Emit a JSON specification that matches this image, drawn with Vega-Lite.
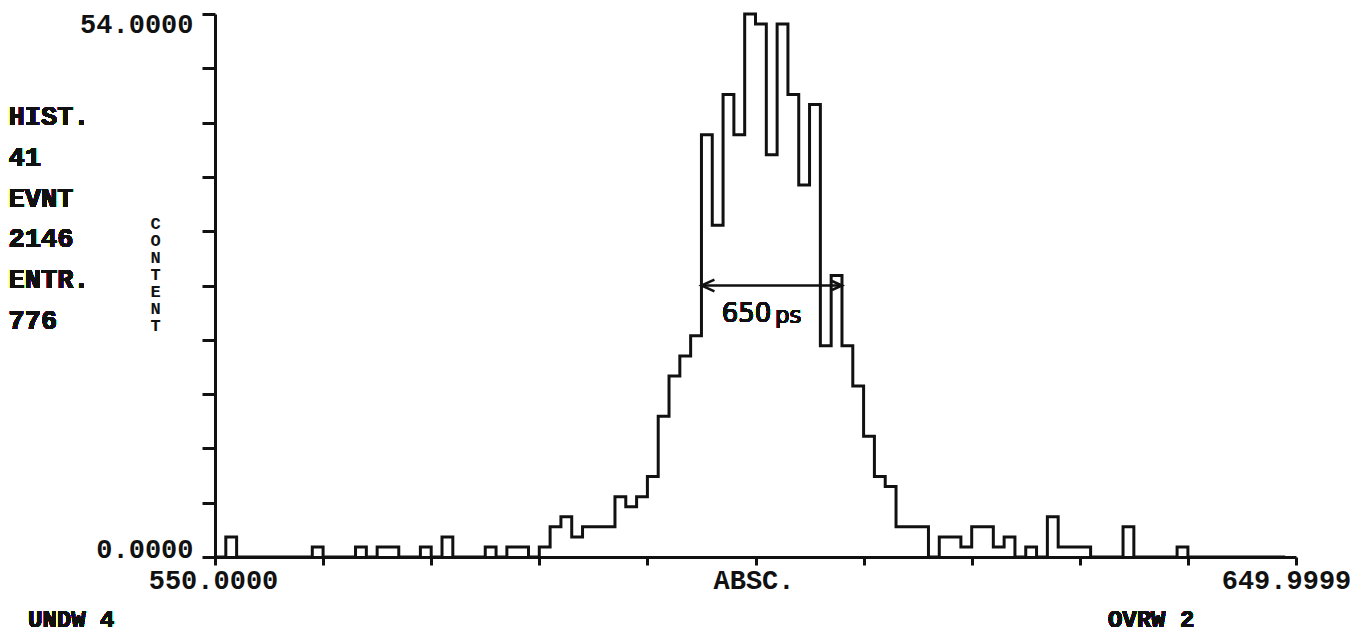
{
  "$schema": "https://vega.github.io/schema/vega-lite/v6.json",
  "width": 1081,
  "height": 543,
  "autosize": {"type": "none"},
  "padding": {"left": 215, "top": 14, "right": 70, "bottom": 75},
  "background": "white",
  "config": {
    "view": {"stroke": null},
    "axis": {
      "grid": false,
      "labelFont": "Liberation Mono",
      "labelFontWeight": "bold",
      "labelFontSize": 27,
      "labelColor": "#111",
      "domainColor": "#111",
      "domainWidth": 3,
      "tickColor": "#111",
      "tickWidth": 3,
      "labelOverlap": false,
      "labelBound": false
    },
    "text": {"font": "Liberation Mono", "fontWeight": "bold", "fontSize": 27, "color": "#111"}
  },
  "data": {
    "values": [
      {"bin": 550, "count": 0}, {"bin": 551, "count": 2}, {"bin": 552, "count": 0}, {"bin": 553, "count": 0},
      {"bin": 554, "count": 0}, {"bin": 555, "count": 0}, {"bin": 556, "count": 0}, {"bin": 557, "count": 0},
      {"bin": 558, "count": 0}, {"bin": 559, "count": 1}, {"bin": 560, "count": 0}, {"bin": 561, "count": 0},
      {"bin": 562, "count": 0}, {"bin": 563, "count": 1}, {"bin": 564, "count": 0}, {"bin": 565, "count": 1},
      {"bin": 566, "count": 1}, {"bin": 567, "count": 0}, {"bin": 568, "count": 0}, {"bin": 569, "count": 1},
      {"bin": 570, "count": 0}, {"bin": 571, "count": 2}, {"bin": 572, "count": 0}, {"bin": 573, "count": 0},
      {"bin": 574, "count": 0}, {"bin": 575, "count": 1}, {"bin": 576, "count": 0}, {"bin": 577, "count": 1},
      {"bin": 578, "count": 1}, {"bin": 579, "count": 0}, {"bin": 580, "count": 1}, {"bin": 581, "count": 3},
      {"bin": 582, "count": 4}, {"bin": 583, "count": 2}, {"bin": 584, "count": 3}, {"bin": 585, "count": 3},
      {"bin": 586, "count": 3}, {"bin": 587, "count": 6}, {"bin": 588, "count": 5}, {"bin": 589, "count": 6},
      {"bin": 590, "count": 8}, {"bin": 591, "count": 14}, {"bin": 592, "count": 18}, {"bin": 593, "count": 20},
      {"bin": 594, "count": 22}, {"bin": 595, "count": 42}, {"bin": 596, "count": 33}, {"bin": 597, "count": 46},
      {"bin": 598, "count": 42}, {"bin": 599, "count": 54}, {"bin": 600, "count": 53}, {"bin": 601, "count": 40},
      {"bin": 602, "count": 53}, {"bin": 603, "count": 46}, {"bin": 604, "count": 37}, {"bin": 605, "count": 45},
      {"bin": 606, "count": 21}, {"bin": 607, "count": 28}, {"bin": 608, "count": 21}, {"bin": 609, "count": 17},
      {"bin": 610, "count": 12}, {"bin": 611, "count": 8}, {"bin": 612, "count": 7}, {"bin": 613, "count": 3},
      {"bin": 614, "count": 3}, {"bin": 615, "count": 3}, {"bin": 616, "count": 0}, {"bin": 617, "count": 2},
      {"bin": 618, "count": 2}, {"bin": 619, "count": 1}, {"bin": 620, "count": 3}, {"bin": 621, "count": 3},
      {"bin": 622, "count": 1}, {"bin": 623, "count": 2}, {"bin": 624, "count": 0}, {"bin": 625, "count": 1},
      {"bin": 626, "count": 0}, {"bin": 627, "count": 4}, {"bin": 628, "count": 1}, {"bin": 629, "count": 1},
      {"bin": 630, "count": 1}, {"bin": 631, "count": 0}, {"bin": 632, "count": 0}, {"bin": 633, "count": 0},
      {"bin": 634, "count": 3}, {"bin": 635, "count": 0}, {"bin": 636, "count": 0}, {"bin": 637, "count": 0},
      {"bin": 638, "count": 0}, {"bin": 639, "count": 1}, {"bin": 640, "count": 0}, {"bin": 641, "count": 0},
      {"bin": 642, "count": 0}, {"bin": 643, "count": 0}, {"bin": 644, "count": 0}, {"bin": 645, "count": 0},
      {"bin": 646, "count": 0}, {"bin": 647, "count": 0}, {"bin": 648, "count": 0}, {"bin": 649, "count": 0}
    ]
  },
  "layer": [
    {
      "mark": {"type": "line", "interpolate": "step-after", "color": "#111", "strokeWidth": 3, "strokeJoin": "miter"},
      "encoding": {
        "x": {
          "field": "bin", "type": "quantitative",
          "scale": {"domain": [550, 650], "nice": false, "zero": false},
          "axis": {
            "title": null,
            "values": [550, 560, 570, 580, 590, 600, 610, 620, 630, 640, 650],
            "tickSize": 8,
            "labelPadding": 2,
            "labelFlush": false,
            "labelAlign": "center",
            "labelExpr": "datum.value == 550 ? '550.0000' : datum.value == 600 ? 'ABSC.' : datum.value == 650 ? '649.9999' : ''",
            "labelOffset": {"condition": {"test": "datum.value == 650", "value": -10}, "value": -2}
          }
        },
        "y": {
          "field": "count", "type": "quantitative",
          "scale": {"domain": [0, 54], "nice": false},
          "title": ["C", "O", "N", "T", "E", "N", "T"],
          "axis": {
            "values": [0, 5.4, 10.8, 16.2, 21.6, 27, 32.4, 37.8, 43.2, 48.6, 54],
            "tickSize": 13,
            "labelPadding": 9,
            "labelFlush": false,
            "labelExpr": "datum.value == 0 ? '0.0000' : datum.value == 54 ? '54.0000' : ''",
            "labelBaseline": {"condition": {"test": "datum.value == 0", "value": "alphabetic"}, "value": "top"},
            "labelOffset": {"condition": {"test": "datum.value == 54", "value": -3}, "value": 0},
            "title": ["C", "O", "N", "T", "E", "N", "T"],
            "titleFont": "Liberation Mono",
            "titleFontWeight": "bold",
            "titleFontSize": 17,
            "titleColor": "#111",
            "titleAngle": 0,
            "titleAlign": "center",
            "titleBaseline": "alphabetic",
            "titleLineHeight": 17,
            "titleX": -60,
            "titleY": 214
          }
        }
      }
    },
    {
      "data": {"values": [{"from": 595.0, "to": 608.0, "level": 27.0}]},
      "mark": {"type": "rule", "color": "#111", "strokeWidth": 2.5},
      "encoding": {
        "x": {"field": "from", "type": "quantitative", "title": null},
        "x2": {"field": "to"},
        "y": {"field": "level", "type": "quantitative"}
      }
    },
    {
      "data": {"values": [{"from": 595.0, "to": 608.0, "level": 27.0}]},
      "mark": {"type": "point", "shape": "M2,-0.9L0,0L2,0.9", "filled": false, "color": "#111", "strokeWidth": 2.5, "size": 169, "opacity": 1},
      "encoding": {
        "x": {"field": "from", "type": "quantitative", "title": null},
        "y": {"field": "level", "type": "quantitative"}
      }
    },
    {
      "data": {"values": [{"from": 595.0, "to": 608.0, "level": 27.0}]},
      "mark": {"type": "point", "shape": "M-2,-0.9L0,0L-2,0.9", "filled": false, "color": "#111", "strokeWidth": 2.5, "size": 100, "opacity": 1},
      "encoding": {
        "x": {"field": "to", "type": "quantitative", "title": null},
        "y": {"field": "level", "type": "quantitative"}
      }
    },
    {
      "mark": {"type": "text", "font": "DejaVu Sans", "fontWeight": "normal", "fontSize": 26, "align": "center", "baseline": "alphabetic"},
      "encoding": {
        "x": {"datum": 599.17, "type": "quantitative"},
        "y": {"datum": 23.37, "type": "quantitative"},
        "text": {"value": "650"}
      }
    },
    {
      "mark": {"type": "text", "font": "DejaVu Sans", "fontWeight": "normal", "fontSize": 23, "align": "left", "baseline": "alphabetic"},
      "encoding": {
        "x": {"datum": 601.8, "type": "quantitative"},
        "y": {"datum": 23.27, "type": "quantitative"},
        "text": {"value": "ps"}
      }
    },
    {
      "mark": {"type": "text", "align": "left", "baseline": "alphabetic", "lineHeight": 40.8},
      "encoding": {
        "x": {"datum": 530.9, "type": "quantitative"},
        "y": {"datum": 42.96, "type": "quantitative"},
        "text": {"value": ["HIST.", "41", "EVNT", "2146", "ENTR.", "776"]}
      }
    },
    {
      "mark": {"type": "text", "align": "left", "baseline": "alphabetic", "fontSize": 24},
      "encoding": {
        "x": {"datum": 532.7, "type": "quantitative"},
        "y": {"datum": -6.96, "type": "quantitative"},
        "text": {"value": "UNDW 4"}
      }
    },
    {
      "mark": {"type": "text", "align": "left", "baseline": "alphabetic", "fontSize": 24},
      "encoding": {
        "x": {"datum": 632.6, "type": "quantitative"},
        "y": {"datum": -6.96, "type": "quantitative"},
        "text": {"value": "OVRW 2"}
      }
    }
  ]
}
